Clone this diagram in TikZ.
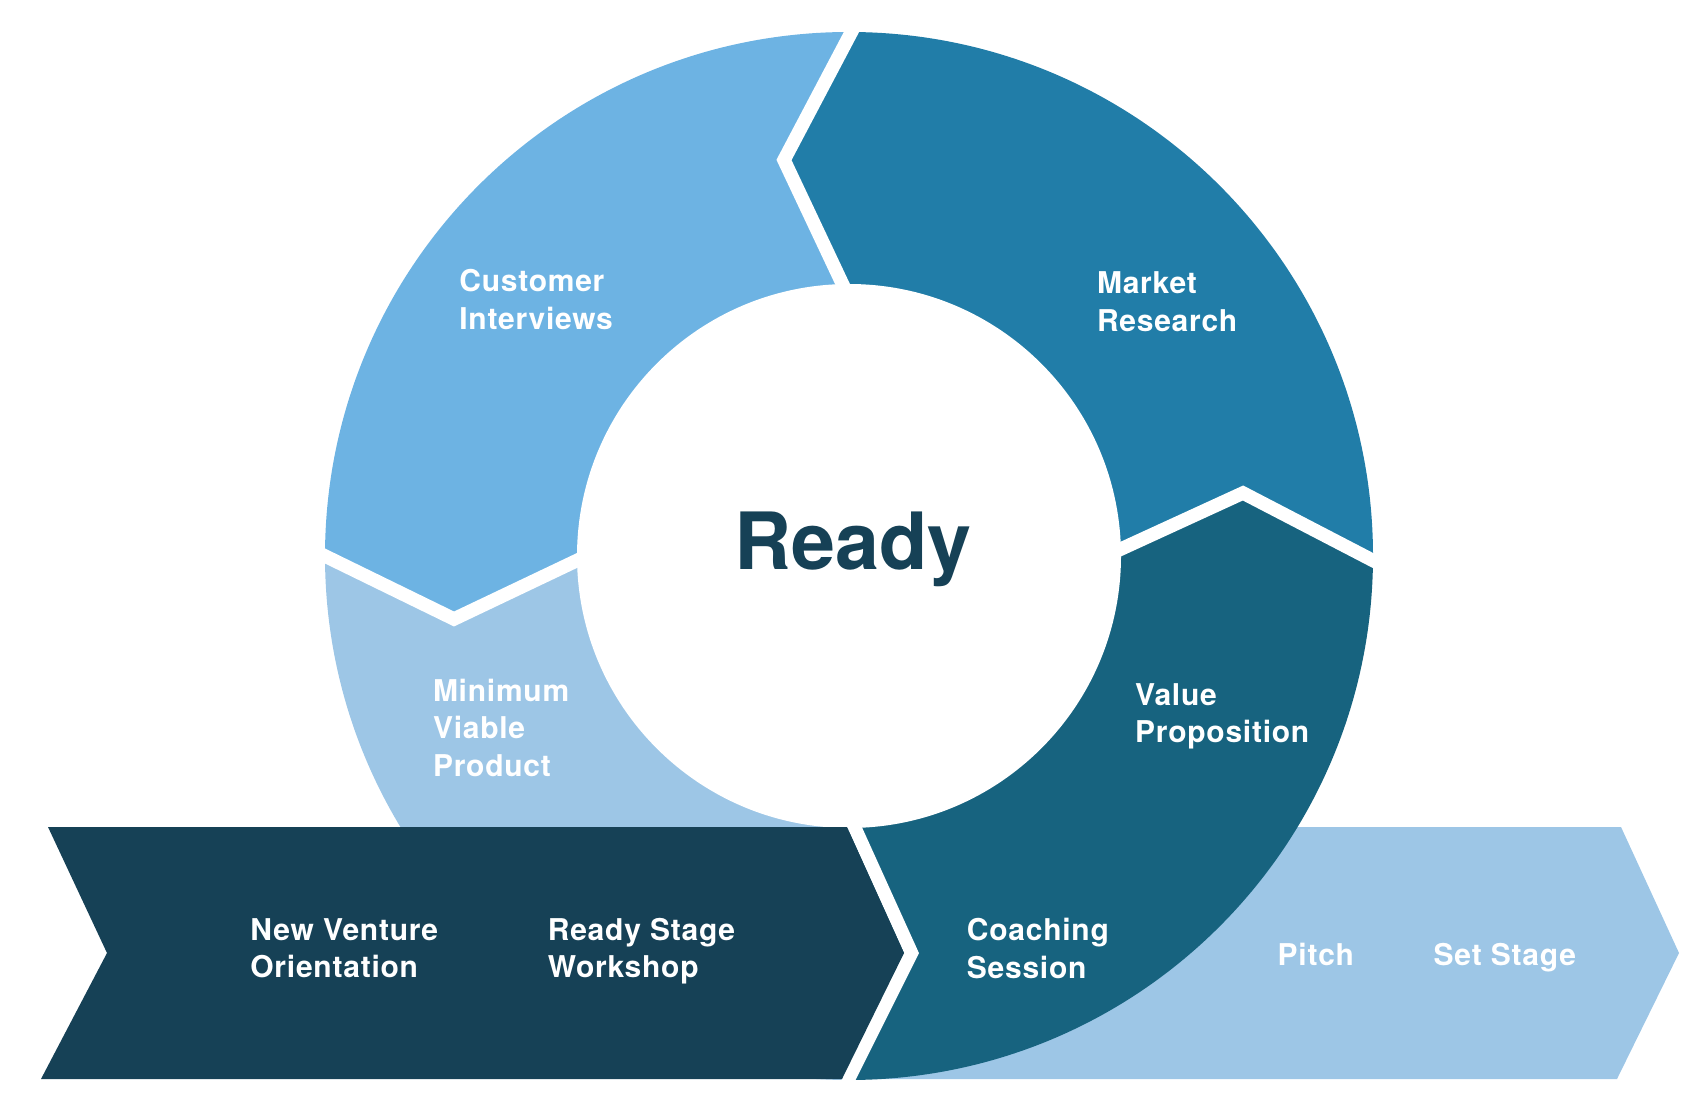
\documentclass[tikz,border=0pt]{standalone}
\usepackage{fontspec}
\setmainfont{TeX Gyre Heros}
\usetikzlibrary{calc}

\definecolor{interviewblue}{HTML}{6DB3E3}
\definecolor{marketblue}{HTML}{217DA8}
\definecolor{paleblue}{HTML}{9DC6E6}
\definecolor{tealblue}{HTML}{17637F}
\definecolor{navyblue}{HTML}{164156}

\tikzset{
    steptext/.style={text=white, font=\bfseries\fontsize{15}{18.75}\selectfont\addfontfeature{LetterSpace=2.5}, align=left, anchor=base west, inner sep=0pt},
    gapline/.style={draw=white, line width=6.75pt, miter limit=20}
}

\begin{document}
\begin{tikzpicture}[x=0.5pt, y=-0.5pt]
        \useasboundingbox (0,0) rectangle (1697,1095);
        \coordinate (centre) at (849,556);
        \coordinate (topout) at (852,31);
        \coordinate (toptip) at (784,160);
        \coordinate (topin) at (842,283);
        \coordinate (leftout) at (325,556);
        \coordinate (lefttip) at (454,619);
        \coordinate (leftin) at (578,560);
        \coordinate (rightin) at (1121,549);
        \coordinate (righttip) at (1243,493);
        \coordinate (rightout) at (1372,560);

        \fill[paleblue] (870,827) -- (1621,827) -- (1679,953) -- (1617,1079) -- (870,1079) -- cycle;

        \begin{scope}
            \clip (centre) circle (524);
            \fill[marketblue] (866,5) -- (topout) -- (toptip) -- (topin) -- (centre) -- (rightin) -- (righttip) -- (rightout) -- (1411,580) -- (1500,580) -- (1500,-60) -- (866,-60) -- cycle;
            \fill[interviewblue] (286,537) -- (leftout) -- (lefttip) -- (leftin) -- (centre) -- (topin) -- (toptip) -- (topout) -- (866,5) -- (866,-60) -- (200,-60) -- (200,537) -- cycle;
            \fill[paleblue] (286,537) -- (leftout) -- (lefttip) -- (leftin) -- (centre) -- (849,1200) -- (200,1200) -- (200,537) -- cycle;
            \fill[tealblue] (centre) -- (rightin) -- (righttip) -- (rightout) -- (1411,580) -- (1500,580) -- (1500,1200) -- (849,1200) -- cycle;
        \end{scope}

        \draw[gapline] (866,5) -- (topout) -- (toptip) -- (topin) -- (854,308);
        \draw[gapline] (286,537) -- (leftout) -- (lefttip) -- (leftin) -- (615,542);
        \draw[gapline] (1084,566) -- (rightin) -- (righttip) -- (rightout) -- (1411,580);
        \fill[white] (centre) circle (272);

        \draw[gapline] (849,815) -- (911.5,953) -- (848.5,1079) -- (846,1092);
        \fill[navyblue] (48,827) -- (847,827) -- (904,953) -- (842,1079) -- (41,1079) -- (107,953) -- cycle;

        \node[steptext] (interviews) at (459,329.5) {Customer\\Interviews};
        \node[steptext] (market) at (1096.6,331.5) {Market\\Research};
        \node[steptext] (mvp) at (432.6,776.5) {Minimum\\Viable\\Product};
        \node[steptext] (valueprop) at (1134.7,743) {Value\\Proposition};
        \node[steptext] (orientation) at (250,977.5) {New Venture\\Orientation};
        \node[steptext] (workshop) at (547.5,977.5) {Ready Stage\\Workshop};
        \node[steptext] (coaching) at (966.5,978) {Coaching\\Session};
        \node[steptext] (pitch) at (1277.3,965) {Pitch};
        \node[steptext] (setstage) at (1433.3,965) {Set Stage};
        \node[anchor=base west, inner sep=0pt, text=navyblue, font=\bfseries\fontsize{39.5}{40}\selectfont] (ready) at (734,569.3) {Ready};
\end{tikzpicture}
\end{document}
